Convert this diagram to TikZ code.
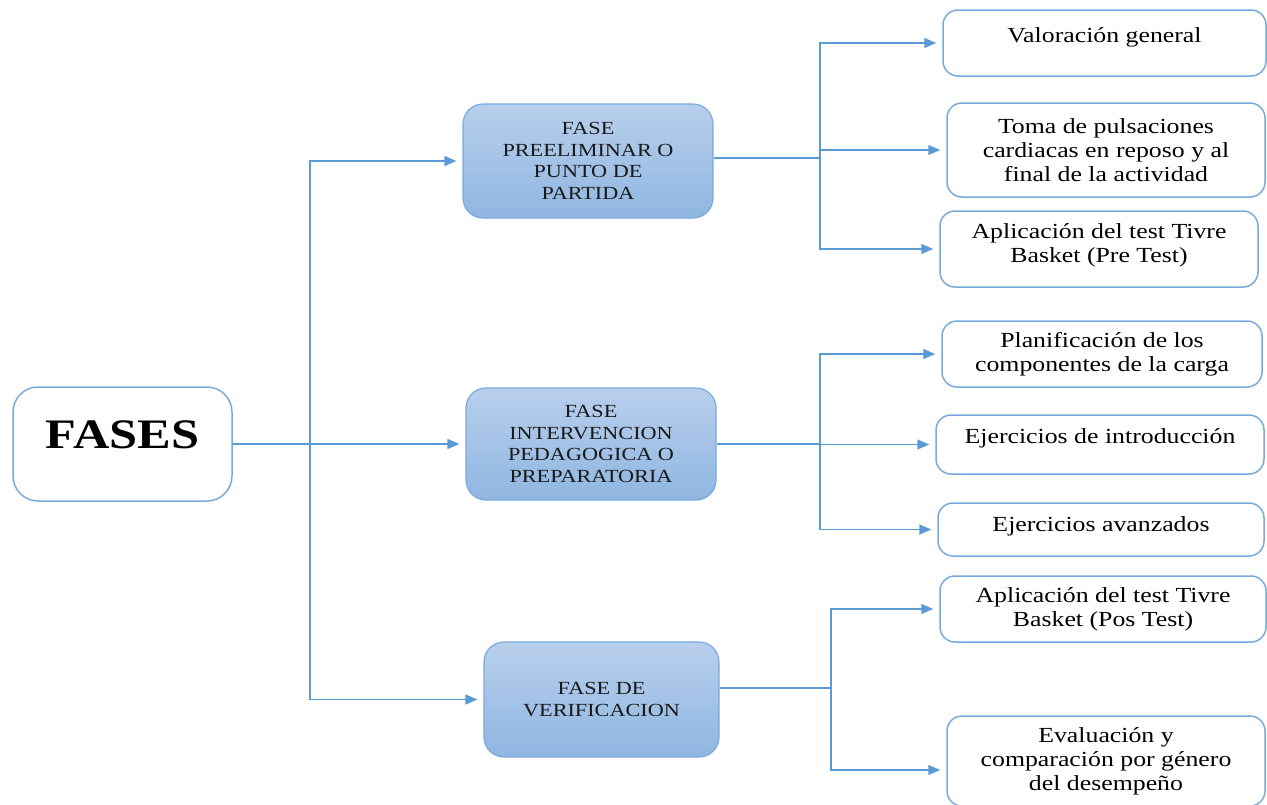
\documentclass[tikz,border=0pt]{standalone}
\usepackage{fontspec}
\setmainfont[FakeStretch=1.2]{Liberation Serif}
\usetikzlibrary{arrows.meta}
\definecolor{linkblue}{RGB}{91,155,213}
\definecolor{edgeblue}{RGB}{120,170,222}
\definecolor{phasetop}{RGB}{184,207,236}
\definecolor{phasebot}{RGB}{143,182,225}
\begin{document}
\begin{tikzpicture}[x=1pt,y=-1pt,
        link/.style={draw=linkblue,line width=1.5pt},
        arr/.style={link,-{Triangle[length=12pt,width=10pt]},shorten >=6pt},
        phasebox/.style={draw=edgeblue,line width=1.2pt,rounded corners=20pt,top color=phasetop,bottom color=phasebot,
            align=center,inner sep=0pt,text=black!90,font=\fontsize{18.5}{21.5}\selectfont},
        itembox/.style={draw=edgeblue,line width=1.5pt,rounded corners=15pt,fill=white,
            align=center,inner sep=0pt,font=\fontsize{21.5}{24}\selectfont}]
                \useasboundingbox (0,0) rectangle (1267,804);

                \node[draw=edgeblue,line width=1.5pt,rounded corners=25pt,minimum width=219pt,minimum height=114pt,
                    align=center,inner sep=0pt,font=\fontsize{42}{42}\selectfont\bfseries] (fases) at (122.5,444) {FASES\\[-24pt]};

                \node[phasebox,minimum width=250pt,minimum height=114pt] (ph1) at (588,161) {FASE\\PREELIMINAR O\\PUNTO DE\\PARTIDA};
                \node[phasebox,minimum width=250pt,minimum height=112pt] (ph2) at (591,444) {FASE\\INTERVENCION\\PEDAGOGICA O\\PREPARATORIA};
                \node[phasebox,minimum width=235pt,minimum height=115pt] (ph3) at (601.5,699.5) {FASE DE\\VERIFICACION};

                \node[itembox,minimum width=323pt,minimum height=66pt] (r1) at (1104.5,43) {Valoración general\\[-8pt]};
                \node[itembox,minimum width=318pt,minimum height=94pt] (r2) at (1106,150) {Toma de pulsaciones\\cardiacas en reposo y al\\final de la actividad};
                \node[itembox,minimum width=318pt,minimum height=76pt] (r3) at (1099,249) {Aplicación del test Tivre\\Basket (Pre Test)\\[-13pt]};
                \node[itembox,minimum width=320pt,minimum height=66pt] (r4) at (1102,354) {Planificación de los\\componentes de la carga};
                \node[itembox,minimum width=328pt,minimum height=59pt] (r5) at (1100,444.5) {Ejercicios de introducción\\[-7pt]};
                \node[itembox,minimum width=326pt,minimum height=53pt] (r6) at (1101,529.5) {Ejercicios avanzados\\[-13pt]};
                \node[itembox,minimum width=326pt,minimum height=66pt] (r7) at (1103,609) {Aplicación del test Tivre\\Basket (Pos Test)};
                \node[itembox,minimum width=318pt,minimum height=90pt] (r8) at (1106,761) {Evaluación y\\comparación por género\\del desempeño};

                \coordinate (b0) at (310,444);
                \coordinate (b1) at (820,158);
                \coordinate (b2) at (820,444);
                \coordinate (b3) at (831,688);

                \draw[arr] (fases) -- (ph2);
                \draw[arr] (b0) |- (ph1);
                \draw[arr] (b0) |- (ph3);

                \draw[link] (ph1.east |- b1) -- (b1);
                \draw[arr] (b1) |- (r1);
                \draw[arr] (b1) |- (r2);
                \draw[arr] (b1) |- (r3);

                \draw[link] (ph2) -- (b2);
                \draw[arr] (b2) |- (r4);
                \draw[arr] (b2) |- (r5);
                \draw[arr] (b2) |- (r6);

                \draw[link] (ph3.east |- b3) -- (b3);
                \draw[arr] (b3) |- (r7);
                \draw[arr] (b3) |- ([yshift=-9pt]r8.west);
            \end{tikzpicture}
\end{document}
